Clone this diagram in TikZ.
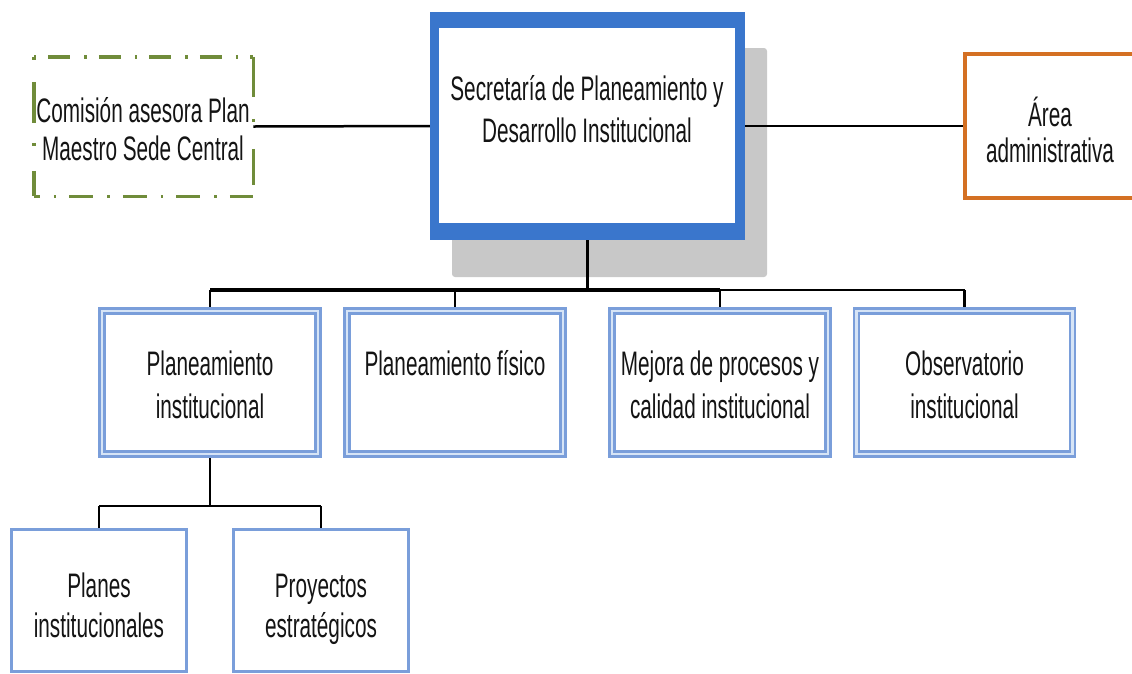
\documentclass[tikz,border=0pt]{standalone}
\usepackage{fontspec}
\setmainfont[FakeStretch=0.61]{Liberation Sans}
\usetikzlibrary{backgrounds}
\definecolor{secblue}{RGB}{58,118,204}
\definecolor{lvblue}{RGB}{122,158,218}
\definecolor{lvlight}{RGB}{214,228,246}
\definecolor{orangec}{RGB}{212,112,35}
\definecolor{olivec}{RGB}{112,140,58}
\definecolor{shadowgray}{RGB}{200,200,200}
\definecolor{txtc}{RGB}{20,20,20}
\begin{document}
\begin{tikzpicture}[x=1pt,y=-1pt,
  txt/.style={font=\fontsize{34}{42}\selectfont, align=center, anchor=base, inner sep=0pt, text=txtc},
  secout/.style={fill=secblue, inner sep=0pt, outer sep=0pt, minimum width=315pt, minimum height=228pt},
  secin/.style={fill=white, inner sep=0pt, outer sep=0pt, minimum width=296pt, minimum height=195pt},
  lvtwo/.style={draw=lvblue, line width=2.8pt, double=lvlight, double distance=2.2pt, fill=white,
    inner sep=0pt, outer sep=0pt, minimum width=216pt, minimum height=143pt},
  lvthree/.style={draw=lvblue, line width=3pt, fill=white, inner sep=0pt, outer sep=0pt,
    minimum width=175pt, minimum height=142pt},
  areabox/.style={draw=orangec, line width=4pt, fill=white, inner sep=0pt, outer sep=0pt,
    minimum width=174pt, minimum height=144pt},
  combox/.style={inner sep=0pt, outer sep=0pt, minimum width=219.5pt, minimum height=139.5pt},
  oliveline/.style={draw=olivec, line width=3.5pt, line cap=butt},
  shadowbox/.style={fill=shadowgray, rounded corners=3pt, inner sep=0pt, outer sep=0pt,
    minimum width=315pt, minimum height=229pt},
  conn/.style={draw=black, line width=2.5pt},
  vline/.style={draw=black, line width=2.8pt},
  hthick/.style={draw=black, line width=4pt, line cap=square},
  hthin/.style={draw=black, line width=2.5pt}
]
\useasboundingbox (0,0) rectangle (1132,673);

% main boxes
\node[secout] (sec) at (587.5,126) {};
\node[secin] (secinner) at (587,125.5) {};
\node[areabox] (area) at (1052,126) {};
\node[combox] (com) at (143.5,126.5) {};
\draw[oliveline, dash pattern=on 2.5pt off 12pt on 22pt off 14pt] (com.north west) -- (com.north east);
\draw[oliveline, dash pattern=on 24pt off 14pt on 2.5pt off 13pt, dash phase=18pt] (com.south west) -- (com.south east);
\draw[oliveline, dash pattern=on 3pt off 22pt on 41pt off 20pt on 3pt off 25pt on 40pt off 30pt] (com.north west) -- (com.south west);
\draw[oliveline, dash pattern=on 40pt off 22pt on 3pt off 27pt on 36pt off 40pt] (com.north east) -- (com.south east);

% level 2
\node[lvtwo] (pi) at (210,382.5) {};
\node[lvtwo] (pf) at (455,382.5) {};
\node[lvtwo] (mp) at (720,382.5) {};
\node[lvtwo] (ob) at (964.5,382.5) {};

% level 3
\node[lvthree] (pl) at (99,600.5) {};
\node[lvthree] (pe) at (321,600.5) {};

% texts
\node[txt] (tsec) at (587,142) {Secretaría de Planeamiento y\\Desarrollo Institucional};
\node[txt, font=\fontsize{34}{38}\selectfont] (tcom) at (143,160) {Comisión asesora Plan\\Maestro Sede Central};
\node[txt, font=\fontsize{34}{36}\selectfont] (tarea) at (1050,162) {Área\\administrativa};
\node[txt, font=\fontsize{34}{43}\selectfont] (tpi) at (210,418) {Planeamiento\\institucional};
\node[txt] (tpf) at (455,375) {Planeamiento físico};
\node[txt, font=\fontsize{34}{43}\selectfont] (tmp) at (720,418) {Mejora de procesos y\\calidad institucional};
\node[txt, font=\fontsize{34}{43}\selectfont] (tob) at (964.5,418) {Observatorio\\institucional};
\node[txt, font=\fontsize{34}{40}\selectfont] (tpl) at (99,637) {Planes\\institucionales};
\node[txt, font=\fontsize{34}{40}\selectfont] (tpe) at (321,637) {Proyectos\\estratégicos};

\begin{pgfonlayer}{background}
  \node[shadowbox] (shadow) at (609.5,162.5) {};
  \draw[conn] (com.east) -- (sec.west);
  \draw[conn] (sec.east) -- (area.west);
  \coordinate (busL) at (0,290);
  \draw[vline] (sec.south) -- (sec.south |- busL);
  \draw[hthick] (pi.north |- busL) -- (mp.north |- busL);
  \draw[hthin] (mp.north |- busL) -- (ob.north |- busL);
  \foreach \n in {pi,pf,mp,ob} \draw[vline] (\n.north |- busL) -- (\n.north);
  \draw[vline] (pi.south) -- ++(0,52) coordinate (busB);
  \draw[conn] (pl.north |- busB) -- (pe.north |- busB);
  \draw[vline] (pl.north |- busB) -- (pl.north);
  \draw[vline] (pe.north |- busB) -- (pe.north);
\end{pgfonlayer}
\end{tikzpicture}
\end{document}
